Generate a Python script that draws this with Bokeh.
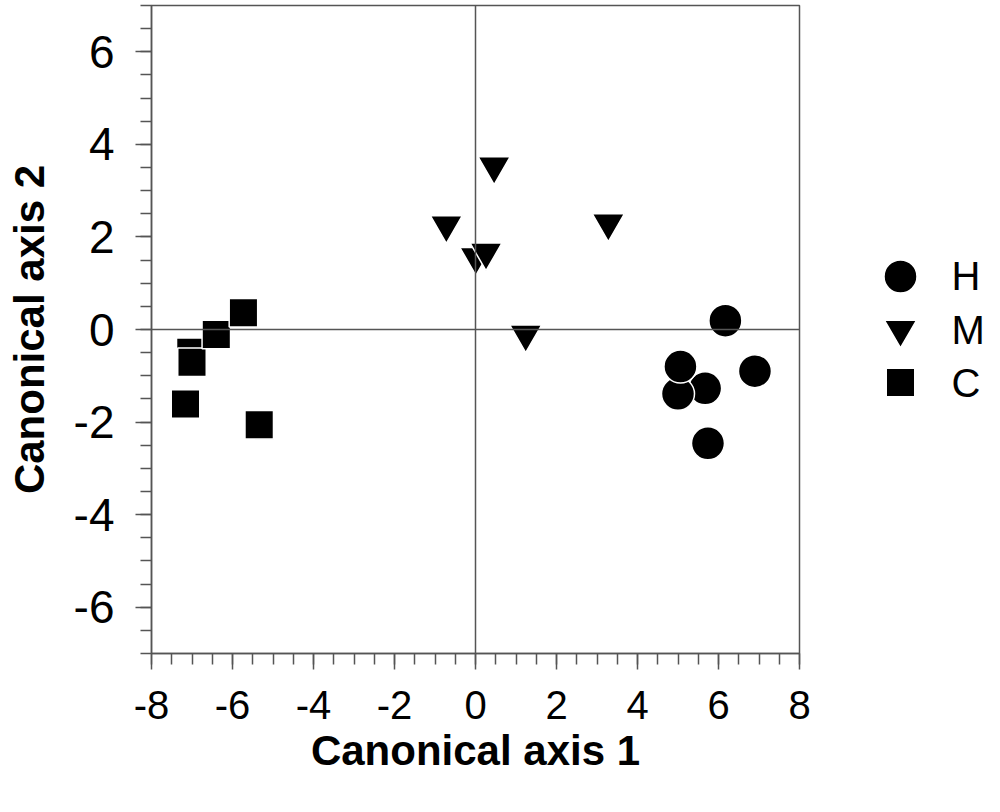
from bokeh.plotting import figure
from bokeh.layouts import row
from bokeh.models import (Range1d, FactorRange, SingleIntervalTicker, Span,
                          CustomJSTickFormatter)
from bokeh.core.properties import value
from bokeh.embed import file_html
from bokeh.resources import INLINE

# Data (canonical scores)
h_x = [5.67, 5.00, 5.06, 6.17, 6.90, 5.74]
h_y = [-1.27, -1.39, -0.80, 0.19, -0.90, -2.46]

m_x = [0.01, 0.26, 0.46, -0.72, 3.28, 1.24]
m_y = [1.57, 1.67, 3.53, 2.26, 2.30, -0.10]

c_x = [-7.03, -7.00, -6.40, -5.73, -7.16, -5.34]
c_y = [-0.49, -0.71, -0.11, 0.36, -1.61, -2.06]

group_labels = ["H", "M", "C"]
group_markers = ["circle", "inverted_triangle", "square"]
group_sizes = [33, 32, 28.5]
x_title = "Canonical axis 1"
y_title = "Canonical axis 2"

FONT = "Liberation Sans"
LINE = "#555555"
TOP, BOTTOM = 5, 143

# ---------------- main scatter plot ----------------
p = figure(width=815, height=796,
           x_range=Range1d(-8, 8), y_range=Range1d(-7, 7),
           output_backend="svg", toolbar_location=None,
           min_border_left=151, min_border_right=16,
           min_border_top=TOP, min_border_bottom=BOTTOM)

p.background_fill_color = "white"
p.border_fill_color = "white"
p.outline_line_color = LINE
p.outline_line_width = 1.5
p.grid.visible = False

# reference lines through the origin
p.add_layout(Span(location=0, dimension="width", line_color=LINE, line_width=1.5))
p.add_layout(Span(location=0, dimension="height", line_color=LINE, line_width=1.5))

p.scatter(h_x, h_y, marker=group_markers[0], size=group_sizes[0],
          fill_color="black", line_color="white", line_width=1.5)
p.scatter(m_x, m_y, marker=group_markers[1], size=group_sizes[1],
          fill_color="black", line_color="white", line_width=1.5)
p.scatter(c_x, c_y, marker=group_markers[2], size=group_sizes[2],
          fill_color="black", line_color="white", line_width=1.5)

for ax in (p.xaxis[0], p.yaxis[0]):
    ax.ticker = SingleIntervalTicker(interval=2, num_minor_ticks=4)
    ax.formatter = CustomJSTickFormatter(code="return tick.toFixed(0);")
    ax.axis_line_color = LINE
    ax.axis_line_width = 1.5
    ax.major_tick_line_color = LINE
    ax.minor_tick_line_color = LINE
    ax.major_tick_line_width = 1.5
    ax.minor_tick_line_width = 1.5
    ax.major_tick_in = 0
    ax.major_tick_out = 16
    ax.minor_tick_in = 0
    ax.minor_tick_out = 11
    ax.major_label_text_font = FONT
    ax.major_label_text_color = "black"
    ax.axis_label_text_font = FONT
    ax.axis_label_text_font_style = "bold"
    ax.axis_label_text_color = "black"
    ax.axis_label_text_font_size = "42px"

p.xaxis[0].axis_label = x_title
p.yaxis[0].axis_label = y_title
p.xaxis[0].major_label_text_font_size = "40px"
p.yaxis[0].major_label_text_font_size = "46px"
p.xaxis[0].major_label_standoff = 21
p.xaxis[0].axis_label_standoff = 5
p.yaxis[0].major_label_standoff = 21
p.yaxis[0].axis_label_standoff = 18

# ---------------- legend panel ----------------
leg = figure(width=169, height=796,
             x_range=Range1d(0, 169),
             y_range=FactorRange(factors=group_labels[::-1], range_padding=3.075),
             output_backend="svg", toolbar_location=None,
             x_axis_type=None, y_axis_type=None,
             min_border_left=0, min_border_right=0,
             min_border_top=TOP, min_border_bottom=BOTTOM)
leg.outline_line_color = None
leg.grid.visible = False
leg.background_fill_color = "white"
leg.border_fill_color = "white"

leg.scatter(x=[85] * len(group_labels), y=group_labels, marker=group_markers,
            size=group_sizes, fill_color="black", line_color="white", line_width=1.5)
leg.text(x=[136] * len(group_labels), y=group_labels, text=group_labels,
         text_font=value(FONT), text_font_size="40px", text_color="black",
         text_baseline="middle", text_align="left")

layout = row(p, leg)

open("out.html", "w").write(file_html(layout, INLINE))
